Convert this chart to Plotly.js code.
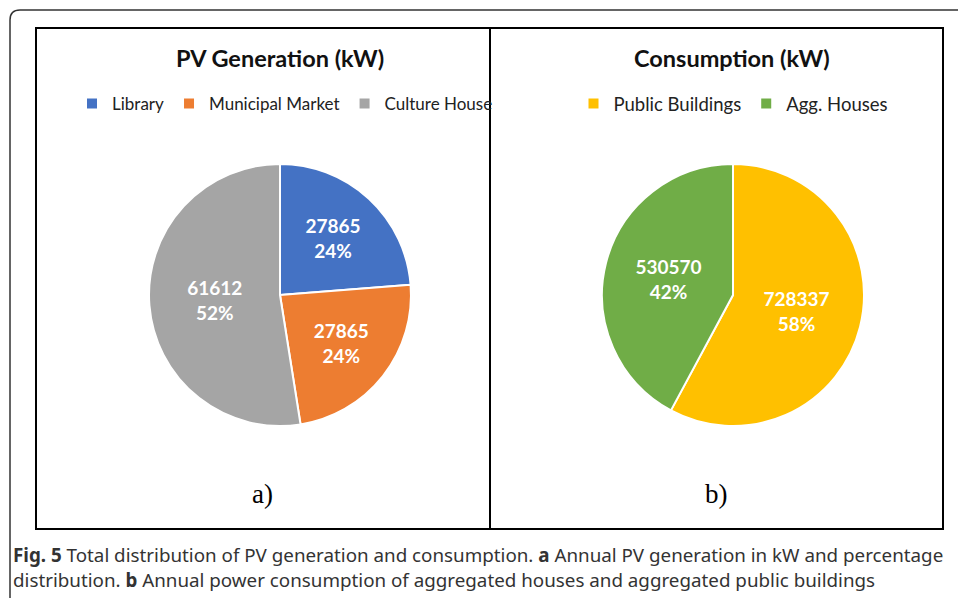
<!DOCTYPE html>
<html><head><meta charset="utf-8">
<script src="https://cdn.plot.ly/plotly-3.0.1.min.js"></script>
<style>html,body{margin:0;padding:0;background:#fff}#c{width:958px;height:598px}</style>
</head><body><div id="c"></div>
<script>
const pvLabels = ["Library", "Municipal Market", "Culture House"];
const pvValues = [27865, 27865, 61612];
const pvPercent = ["24%", "24%", "52%"];
const pvColors = ["#4472C4", "#ED7D31", "#A5A5A5"];

const conLabels = ["Public Buildings", "Agg. Houses"];
const conValues = [728337, 530570];
const conPercent = ["58%", "42%"];
const conColors = ["#FFC000", "#70AD47"];

const W = 958, H = 598;
const px = x => x / W, py = y => 1 - y / H;
const F = "Lato, 'Open Sans', sans-serif";

const traces = [
  {
    type: "pie", labels: pvLabels, values: pvValues,
    text: pvValues.map((v, i) => v + "<br>" + pvPercent[i]),
    textinfo: "text", textposition: "inside", insidetextorientation: "horizontal",
    textfont: {family: F, size: 19, color: "#fff", weight: "bold"},
    marker: {colors: pvColors, line: {color: "#fff", width: 2}},
    sort: false, direction: "clockwise", rotation: 0,
    domain: {x: [px(149), px(411)], y: [py(426), py(164)]},
    hoverinfo: "label+value+percent", legend: "legend"
  },
  {
    type: "pie", labels: conLabels, values: conValues,
    text: conValues.map((v, i) => v + "<br>" + conPercent[i]),
    textinfo: "text", textposition: "inside", insidetextorientation: "horizontal",
    textfont: {family: F, size: 19, color: "#fff", weight: "bold"},
    marker: {colors: conColors, line: {color: "#fff", width: 2}},
    sort: false, direction: "clockwise", rotation: 0,
    domain: {x: [px(602), px(864)], y: [py(426), py(164)]},
    hoverinfo: "label+value+percent", legend: "legend2"
  }
];

const legendBase = {
  orientation: "h", yanchor: "middle",
  bgcolor: "rgba(0,0,0,0)", itemwidth: 30, tracegroupgap: 0
};

const layout = {
  width: W, height: H,
  margin: {l: 0, r: 0, t: 0, b: 0},
  paper_bgcolor: "#fff", plot_bgcolor: "#fff",
  showlegend: true,
  legend: Object.assign({}, legendBase, {x: px(72), xanchor: "left", y: py(104),
    font: {family: F, size: 17, color: "#222"}}),
  legend2: Object.assign({}, legendBase, {x: px(733), xanchor: "center", y: py(104),
    font: {family: F, size: 18.5, color: "#222"}}),
  shapes: [
    {type: "path", xref: "paper", yref: "paper",
     path: `M ${px(10)},${py(600)} L ${px(10)},${py(20)} Q ${px(10)},${py(10)} ${px(20)},${py(10)} L ${px(965)},${py(10)}`,
     line: {color: "#333", width: 1.5}},
    {type: "rect", xref: "paper", yref: "paper", x0: px(36), x1: px(490), y0: py(529), y1: py(28),
     line: {color: "#000", width: 2}},
    {type: "rect", xref: "paper", yref: "paper", x0: px(490), x1: px(943), y0: py(529), y1: py(28),
     line: {color: "#000", width: 2}}
  ],
  annotations: [
    {text: "<b>PV Generation (kW)</b>", x: px(280), y: py(58), xref: "paper", yref: "paper",
     showarrow: false, xanchor: "center", yanchor: "middle", font: {family: F, size: 23.5, color: "#111"}},
    {text: "<b>Consumption (kW)</b>", x: px(732), y: py(58), xref: "paper", yref: "paper",
     showarrow: false, xanchor: "center", yanchor: "middle", font: {family: F, size: 23.5, color: "#111"}},
    {text: "a)", x: px(262), y: py(494), xref: "paper", yref: "paper",
     showarrow: false, xanchor: "center", yanchor: "middle", font: {family: "'Liberation Serif', serif", size: 27, color: "#000"}},
    {text: "b)", x: px(716), y: py(494), xref: "paper", yref: "paper",
     showarrow: false, xanchor: "center", yanchor: "middle", font: {family: "'Liberation Serif', serif", size: 27, color: "#000"}},
    {text: "<b>Fig. 5</b> Total distribution of PV generation and consumption. <b>a</b> Annual PV generation in kW and percentage",
     x: px(11), y: py(555), xref: "paper", yref: "paper",
     showarrow: false, xanchor: "left", yanchor: "middle", font: {family: "'Noto Sans', 'Open Sans', sans-serif", size: 18.8, color: "#333"}},
    {text: "distribution. <b>b</b> Annual power consumption of aggregated houses and aggregated public buildings",
     x: px(11), y: py(580), xref: "paper", yref: "paper",
     showarrow: false, xanchor: "left", yanchor: "middle", font: {family: "'Noto Sans', 'Open Sans', sans-serif", size: 18.8, color: "#333"}}
  ]
};

Plotly.newPlot("c", traces, layout, {displayModeBar: false, staticPlot: true});
</script>
</body></html>
